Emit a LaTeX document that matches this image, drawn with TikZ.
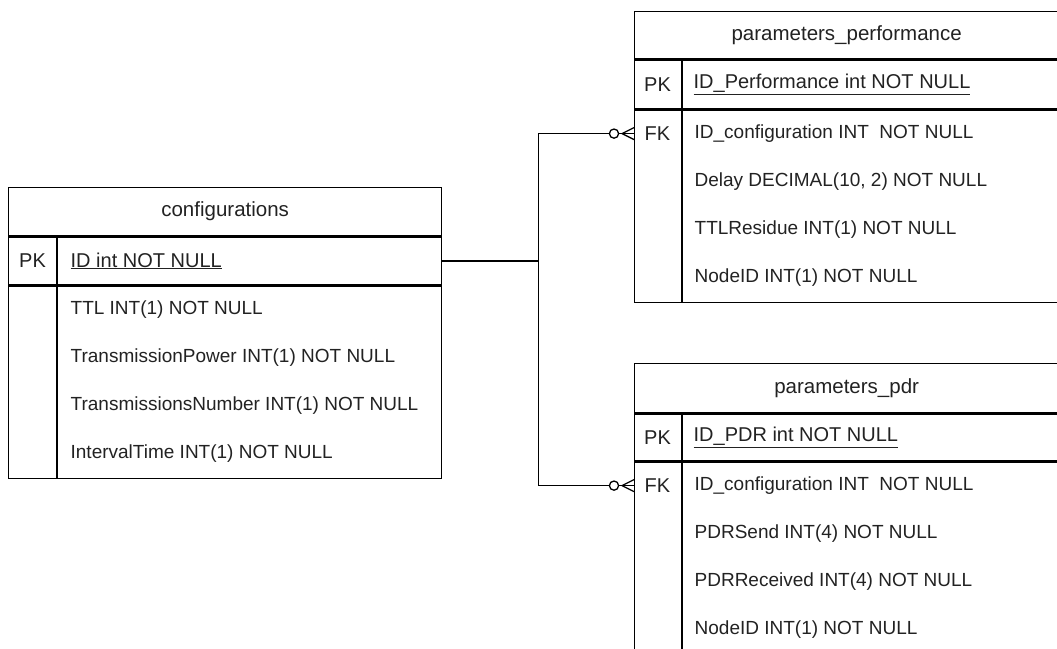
\documentclass[tikz,border=0pt]{standalone}
\usepackage{fontspec}
\setmainfont{Liberation Sans}
\usetikzlibrary{positioning,calc}
\definecolor{txt}{HTML}{222222}

\begin{document}
\begin{tikzpicture}[x=1pt, y=-1pt, line width=1.3pt,
    font=\fontsize{19}{22}\selectfont,
    box/.style={draw, rectangle, inner sep=0pt, text=txt},
    headbox/.style={box, font=\fontsize{20.5}{24}\selectfont},
    keytxt/.style={text=txt, inner sep=0pt, font=\fontsize{20}{23}\selectfont},
    fieldtxt/.style={anchor=west, text=txt, inner sep=0pt},
    pktxt/.style={fieldtxt, font=\fontsize{20}{23}\selectfont},
    zeromany/.pic={
        \draw (-12,0) -- (0,-6) (-12,0) -- (0,6);
        \draw[fill=white] (-20,0) circle (4.6);
    }]
    \clip (0,0) rectangle (1057,648);

    % --- table configurations ---
    \node[headbox, anchor=north west, minimum width=433pt, minimum height=48pt] (cfgHead) at (8,187) {configurations};
    \node[box, minimum width=433pt, minimum height=48pt, below=0pt of cfgHead] (cfgPK) {};
    \node[box, minimum width=433pt, minimum height=192pt, below=0pt of cfgPK] (cfgBody) {};
    \draw ($(cfgPK.north west)+(49,0)$) -- ($(cfgBody.south west)+(49,0)$);
    \node[keytxt] at ($(cfgPK.west)+(24.5,0)$) {PK};
    \node[pktxt] (cfgID) at ($(cfgPK.west)+(62,0)$) {\underline{ID int NOT NULL}};
    \foreach \f [count=\i] in {{TTL INT(1) NOT NULL}, {TransmissionPower INT(1) NOT NULL},
        {TransmissionsNumber INT(1) NOT NULL}, {IntervalTime INT(1) NOT NULL}}
        \node[fieldtxt] (cfgF\i) at ($(cfgBody.north west)+(62,48*\i-24)$) {\f};

    % --- table parameters_performance ---
    \node[headbox, anchor=north west, minimum width=424pt, minimum height=47pt] (perfHead) at (634,11) {parameters\_performance};
    \node[box, minimum width=424pt, minimum height=49pt, below=0pt of perfHead] (perfPK) {};
    \node[box, minimum width=424pt, minimum height=192pt, below=0pt of perfPK] (perfBody) {};
    \draw ($(perfPK.north west)+(48,0)$) -- ($(perfBody.south west)+(48,0)$);
    \node[keytxt] at ($(perfPK.west)+(23.5,0)$) {PK};
    \node[pktxt] (perfID) at ($(perfPK.west)+(59,0)$) {\underline{ID\_Performance int NOT NULL}};
    \coordinate (perfFK) at ($(perfBody.north west)+(0,24)$);
    \node[keytxt] at ($(perfFK)+(23.5,0)$) {FK};
    \foreach \f [count=\i] in {{ID\_configuration INT\ \ NOT NULL}, {Delay DECIMAL(10, 2) NOT NULL},
        {TTLResidue INT(1) NOT NULL}, {NodeID INT(1) NOT NULL}}
        \node[fieldtxt] (perfF\i) at ($(perfBody.north west)+(60,48*\i-24)$) {\f};

    % --- table parameters_pdr ---
    \node[headbox, anchor=north west, minimum width=424pt, minimum height=49pt] (pdrHead) at (634,363) {parameters\_pdr};
    \node[box, minimum width=424pt, minimum height=47pt, below=0pt of pdrHead] (pdrPK) {};
    \node[box, minimum width=424pt, minimum height=192pt, below=0pt of pdrPK] (pdrBody) {};
    \draw ($(pdrPK.north west)+(48,0)$) -- ($(pdrBody.south west)+(48,0)$);
    \node[keytxt] at ($(pdrPK.west)+(23.5,0)$) {PK};
    \node[pktxt] (pdrID) at ($(pdrPK.west)+(59,0)$) {\underline{ID\_PDR int NOT NULL}};
    \coordinate (pdrFK) at ($(pdrBody.north west)+(0,24)$);
    \node[keytxt] at ($(pdrFK)+(23.5,0)$) {FK};
    \foreach \f [count=\i] in {{ID\_configuration INT\ \ NOT NULL}, {PDRSend INT(4) NOT NULL},
        {PDRReceived INT(4) NOT NULL}, {NodeID INT(1) NOT NULL}}
        \node[fieldtxt] (pdrF\i) at ($(pdrBody.north west)+(60,48*\i-24)$) {\f};

    % --- relations ---
    \draw (cfgPK.east) -- ++(96,0) coordinate (bus);
    \draw (bus) |- (perfFK);
    \draw (bus) |- (pdrFK);
    \pic at (perfFK) {zeromany};
    \pic at (pdrFK) {zeromany};
\end{tikzpicture}
\end{document}
